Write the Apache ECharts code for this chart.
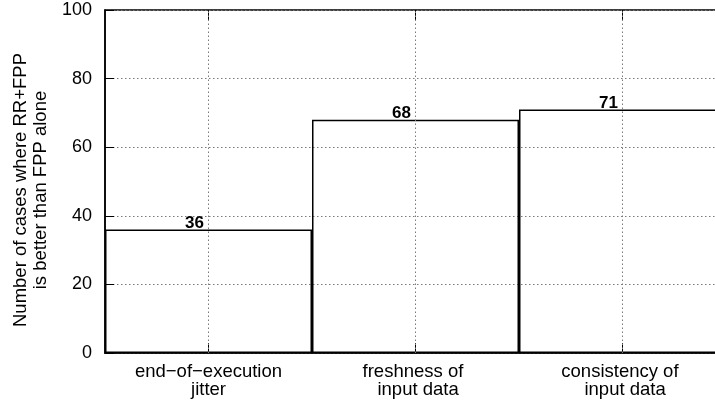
<!DOCTYPE html>
<html>
<head>
<meta charset="utf-8">
<script src="https://cdn.jsdelivr.net/npm/echarts@6/dist/echarts.min.js"></script>
<style>html,body{margin:0;padding:0;background:#fff}#c{width:715px;height:404px}</style>
</head>
<body>
<div id="c"></div>
<script>
const categories = ['end\u2212of\u2212execution\njitter', 'freshness of \n input data', 'consistency of \n input data'];
const values = [36, 68, 71];
const yTicks = { min: 0, max: 100, interval: 20 };
const yTitle = 'Number of cases where RR+FPP\nis better than FPP alone';

const FONT = '"Liberation Sans", Arial, sans-serif';
const dotted = { color: '#7a7a7a', type: [1.5, 2.5], width: 1 };

const chart = echarts.init(document.getElementById('c'), null, { renderer: 'canvas' });
chart.setOption({
  animation: false,
  backgroundColor: '#fff',
  grid: { left: 105, top: 10, right: -11, bottom: 51, show: true, borderColor: '#000', borderWidth: 1.5, backgroundColor: 'transparent', containLabel: false, outerBoundsMode: 'none' },
  xAxis: [{
    type: 'category', data: categories, position: 'bottom', boundaryGap: true,
    axisLine: { show: true, lineStyle: { color: '#000', width: 1.5 } },
    axisTick: { show: true, inside: true, alignWithLabel: true, length: 10, lineStyle: { color: '#000', width: 1 } },
    axisLabel: { show: true, interval: 0, margin: 10, color: '#000', fontFamily: FONT, fontSize: 18.5, lineHeight: 18 },
    splitLine: { show: false }
  }, {
    type: 'category', data: categories, position: 'top', boundaryGap: true,
    axisLine: { show: false },
    axisTick: { show: true, inside: true, alignWithLabel: true, length: 10, lineStyle: { color: '#000', width: 1 } },
    axisLabel: { show: false },
    splitLine: { show: false }
  }],
  yAxis: {
    type: 'value', min: yTicks.min, max: yTicks.max, interval: yTicks.interval,
    axisLine: { show: true, lineStyle: { color: '#000', width: 1.5 } },
    axisTick: { show: true, inside: true, length: 9, lineStyle: { color: '#000', width: 1 } },
    axisLabel: { color: '#000', fontFamily: FONT, fontSize: 18, margin: 13 },
    splitLine: { show: true, lineStyle: dotted }
  },
  graphic: [{
    type: 'text', x: 31, y: 190, rotation: Math.PI / 2,
    style: { text: yTitle, align: 'center', verticalAlign: 'middle', fill: '#000', font: '18.5px ' + FONT, lineHeight: 20 }
  }],
  series: [{
    type: 'bar', data: values, xAxisIndex: 0, barWidth: '100%', barCategoryGap: 0,
    itemStyle: { color: 'rgba(0,0,0,0)', borderColor: '#000', borderWidth: 1.5 },
    label: { show: true, position: 'top', distance: 0, offset: [-14, 2], color: '#000', fontFamily: FONT, fontSize: 17, fontWeight: 'bold' },
    markLine: {
      silent: true, symbol: 'none', label: { show: false },
      lineStyle: dotted,
      data: [{ xAxis: 0 }, { xAxis: 1 }, { xAxis: 2 }]
    }
  }]
});
</script>
</body>
</html>
